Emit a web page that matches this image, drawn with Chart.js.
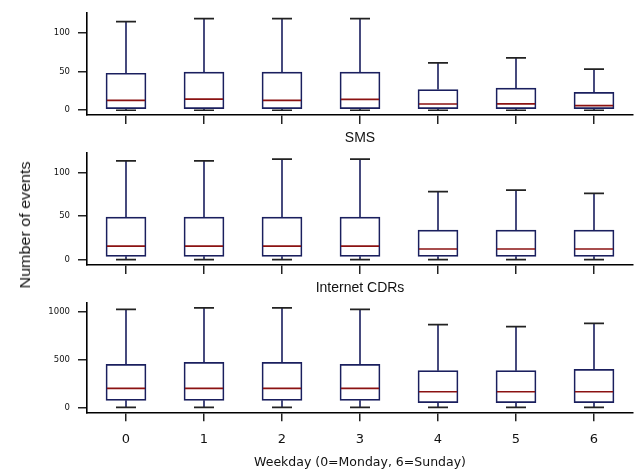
<!DOCTYPE html>
<html>
<head>
<meta charset="utf-8">
<script src="https://cdn.jsdelivr.net/npm/chart.js@4.4.1/dist/chart.umd.min.js"></script>
<style>
  body { margin: 0; background: #fff; }
  #wrap { position: relative; width: 637px; height: 472px; overflow: hidden; }
  .panel { position: absolute; left: 0; width: 637px; }
  #ylabel {
    position: absolute; left: 25px; top: 225px;
    font: 14px "Liberation Sans", Arial, sans-serif; color: #111;
    white-space: nowrap;
    transform: translate(-50%, -50%) rotate(-90deg) scaleX(1.15);
  }
</style>
</head>
<body>
<div id="wrap">
  <div class="panel" style="top:0px;height:128px"><canvas id="c1"></canvas></div>
  <div class="panel" style="top:128px;height:150px"><canvas id="c2"></canvas></div>
  <div class="panel" style="top:278px;height:194px"><canvas id="c3"></canvas></div>
  <div id="ylabel">Number of events</div>
</div>
<script>
// weekdays
const days = ['0', '1', '2', '3', '4', '5', '6'];

// top panel (title cut off in the picture)
const topLow  = [0, 0, 0, 0, 0, 0, 0];
const topQ1   = [2, 2, 2, 2, 2, 2, 2];
const topMed  = [12.7, 14.3, 12.7, 14, 8, 8.3, 6];
const topQ3   = [47.6, 49, 49, 49, 26.6, 28.6, 23];
const topHigh = [114, 118, 118, 118, 61, 67.5, 52.8];
const topTicks = [0, 50, 100];

// SMS
const smsLow  = [0, 0, 0, 0, 0, 0, 0];
const smsQ1   = [3.8, 3.8, 3.8, 3.8, 3.8, 3.8, 3.8];
const smsMed  = [15.6, 15.6, 15.6, 15.6, 12.2, 12.2, 12.2];
const smsQ3   = [48.9, 48.9, 48.9, 48.9, 34, 34, 34];
const smsHigh = [113.7, 113.7, 115.7, 115.7, 78.3, 80, 76.3];
const smsTicks = [0, 50, 100];

// Internet CDRs
const netLow  = [0, 0, 0, 0, 0, 0, 0];
const netQ1   = [73, 73, 73, 73, 48, 48, 48];
const netMed  = [199, 199, 199, 199, 163, 163, 163];
const netQ3   = [450, 471, 471, 450, 383, 383, 397];
const netHigh = [1025, 1039, 1039, 1025, 864, 843, 878];
const netTicks = [0, 500, 1000];

const boxColor = '#1a1f5e';
const capColor = '#222';
const medColor = '#8b1212';

// whiskers behind the box, median and caps on top
const boxPlugin = {
  id: 'boxParts',
  beforeDatasetsDraw(chart) {
    const st = chart.options.plugins.boxParts;
    const x = chart.scales.x, y = chart.scales.y, ctx = chart.ctx;
    ctx.save();
    ctx.strokeStyle = boxColor;
    ctx.lineWidth = 1.6;
    days.forEach((d, i) => {
      const px = x.getPixelForValue(i);
      ctx.beginPath();
      ctx.moveTo(px, y.getPixelForValue(st.q3[i]));
      ctx.lineTo(px, y.getPixelForValue(st.high[i]));
      ctx.moveTo(px, y.getPixelForValue(st.q1[i]));
      ctx.lineTo(px, y.getPixelForValue(st.low[i]));
      ctx.stroke();
    });
    ctx.restore();
  },
  afterDatasetsDraw(chart) {
    const st = chart.options.plugins.boxParts;
    const x = chart.scales.x, y = chart.scales.y, ctx = chart.ctx;
    const bars = chart.getDatasetMeta(0).data;
    ctx.save();
    ctx.lineWidth = 1.7;
    days.forEach((d, i) => {
      const px = x.getPixelForValue(i);
      const half = bars[i].width / 2;
      ctx.strokeStyle = capColor;
      ctx.beginPath();
      [st.high[i], st.low[i]].forEach(v => {
        const py = y.getPixelForValue(v);
        ctx.moveTo(px - half / 2, py);
        ctx.lineTo(px + half / 2, py);
      });
      ctx.stroke();
      ctx.strokeStyle = medColor;
      ctx.beginPath();
      const my = y.getPixelForValue(st.med[i]);
      ctx.moveTo(px - half + 1, my);
      ctx.lineTo(px + half - 1, my);
      ctx.stroke();
    });
    ctx.restore();
  }
};

function makePanel(id, o) {
  new Chart(document.getElementById(id), {
    type: 'bar',
    data: {
      labels: days,
      datasets: [{
        data: o.q1.map((v, i) => [v, o.q3[i]]),
        backgroundColor: '#fff',
        borderColor: boxColor,
        borderWidth: 1.7,
        borderSkipped: false,
        barThickness: 40
      }]
    },
    options: {
      responsive: true,
      maintainAspectRatio: false,
      animation: false,
      layout: { padding: { top: o.padTop, right: 4, left: 0, bottom: 0 } },
      plugins: {
        legend: { display: false },
        tooltip: { enabled: false },
        title: {
          display: !!o.title,
          text: o.title,
          fullSize: false,
          color: '#111',
          font: { family: 'Liberation Sans', size: 14, weight: 'normal' },
          padding: { top: 2, bottom: o.titleGap }
        },
        boxParts: o
      },
      scales: {
        x: {
          offset: true,
          border: { display: true, color: '#000', width: 1.6 },
          grid: { offset: false, drawOnChartArea: false, drawTicks: true, tickLength: 9, color: '#222', lineWidth: 1.5 },
          ticks: {
            display: o.showX,
            padding: 11,
            color: '#111',
            font: { family: 'DejaVu Sans', size: 13 }
          },
          title: {
            display: o.showX,
            text: 'Weekday (0=Monday, 6=Sunday)',
            color: '#111',
            font: { family: 'DejaVu Sans', size: 12.5 },
            padding: { top: 0, bottom: 2 }
          },
          afterFit(s) { s.height = o.xHeight; }
        },
        y: {
          min: o.min,
          max: o.max,
          border: { display: true, color: '#000', width: 1.6 },
          grid: { drawOnChartArea: false, drawTicks: true, tickLength: 9, color: '#222', lineWidth: 1.5 },
          ticks: {
            padding: 8,
            color: '#111',
            font: { family: 'DejaVu Sans', size: 8.5 },
            callback: v => String(v)
          },
          afterBuildTicks(s) { s.ticks = o.ticks.map(v => ({ value: v })); },
          afterFit(s) { s.width = 87; }
        }
      }
    },
    plugins: [boxPlugin]
  });
}

makePanel('c1', {
  low: topLow, q1: topQ1, med: topMed, q3: topQ3, high: topHigh, ticks: topTicks,
  min: -6, max: 125, padTop: 6, title: '', titleGap: 0, showX: false, xHeight: 12
});
makePanel('c2', {
  low: smsLow, q1: smsQ1, med: smsMed, q3: smsQ3, high: smsHigh, ticks: smsTicks,
  min: -6.1, max: 122.6, padTop: 0, title: 'SMS', titleGap: 6.4, showX: false, xHeight: 12.7
});
makePanel('c3', {
  low: netLow, q1: netQ1, med: netMed, q3: netQ3, high: netHigh, ticks: netTicks,
  min: -52, max: 1094, padTop: 0, title: 'Internet CDRs', titleGap: 5.9, showX: true, xHeight: 59.7
});
</script>
</body>
</html>
